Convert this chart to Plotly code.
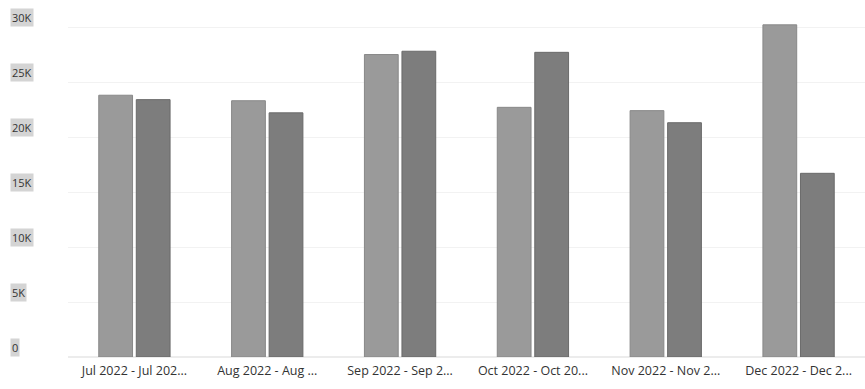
import plotly.graph_objects as go

categories = ["Jul 2022 - Jul 202...", "Aug 2022 - Aug ...", "Sep 2022 - Sep 2...",
              "Oct 2022 - Oct 20...", "Nov 2022 - Nov 2...", "Dec 2022 - Dec 2..."]
series_a = [23800, 23300, 27500, 22700, 22400, 30200]
series_b = [23400, 22200, 27800, 27700, 21300, 16700]
tick_vals = [0, 5000, 10000, 15000, 20000, 25000, 30000]
tick_text = ["0", "5K", "10K", "15K", "20K", "25K", "30K"]

fig = go.Figure()
fig.add_trace(go.Bar(x=categories, y=series_a, marker=dict(color="#9a9a9a", line=dict(color="#888888", width=1))))
fig.add_trace(go.Bar(x=categories, y=series_b, marker=dict(color="#7d7d7d", line=dict(color="#6a6a6a", width=1))))

L, R, T, B = 68, 0, 20, 32
W, H = 865, 389
pw = W - L - R
annotations = []
for v, t in zip(tick_vals, tick_text):
    annotations.append(dict(x=(10 - L) / pw, xref="paper", y=v, yref="y", text=t, showarrow=False,
                            xanchor="left", yanchor="bottom", yshift=0,
                            font=dict(family="Open Sans", size=11, color="#333333"),
                            bgcolor="#d4d4d4"))

fig.update_layout(
    width=W, height=H, margin=dict(l=L, r=R, t=T, b=B),
    barmode="group", bargap=0.435, bargroupgap=0.1,
    plot_bgcolor="white", paper_bgcolor="white", showlegend=False,
    xaxis=dict(tickfont=dict(family="Open Sans", size=12.5, color="#333333"), showgrid=False, ticks="",
               ticklabelstandoff=4),
    yaxis=dict(range=[0, 30640], tickvals=tick_vals, showticklabels=False, gridcolor="#f2f2f2",
               zeroline=True, zerolinecolor="#ececec"),
    annotations=annotations,
)
fig.write_html("out.html")
